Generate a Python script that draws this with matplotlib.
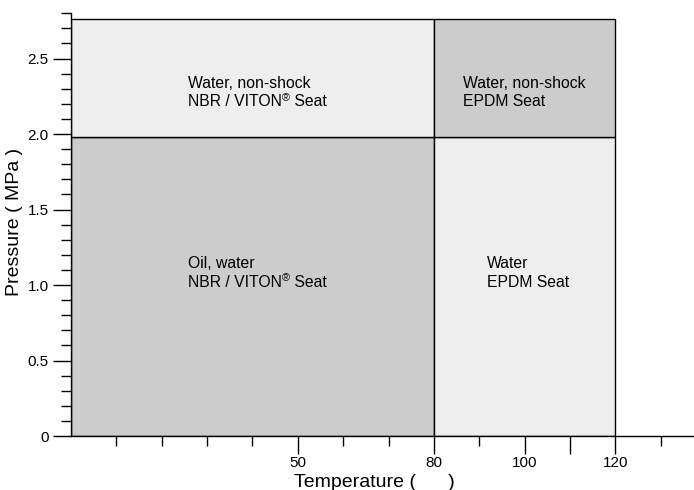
import matplotlib
matplotlib.use("Agg")
import matplotlib.pyplot as plt
from matplotlib import font_manager
import matplotlib.patches as mpatches

names = {f.name for f in font_manager.fontManager.ttflist}
narrow = "Liberation Sans Narrow" if "Liberation Sans Narrow" in names else "Liberation Sans"
plt.rcParams['font.family'] = ['Liberation Sans', 'DejaVu Sans']

# Data
temp_edges = [0, 80, 120]
pressure_edges = [0, 1.98, 2.76]
region_colors = [["#cccccc", "#eeeeee"], ["#eeeeee", "#cccccc"]]  # [row][col]
# (first line, second line before superscript, superscript, rest)
region_labels = [[("Oil, water", "NBR / VITON", "®", " Seat"), ("Water", "EPDM Seat", "", "")],
                 [("Water, non-shock", "NBR / VITON", "®", " Seat"),
                  ("Water, non-shock", "EPDM Seat", "", "")]]
label_x = [[25.8, 91.7], [25.8, 86.3]]
label_y = [[(1.11, 0.99), (1.11, 0.99)], [(2.305, 2.185), (2.305, 2.185)]]

x_major = [50, 80, 100, 110, 120]
x_major_labels = ["50", "80", "100", "", "120"]
x_minor = [10, 20, 30, 40, 60, 70, 90, 130]
y_major = [0, 0.5, 1.0, 1.5, 2.0, 2.5]
y_major_labels = ["0", "0.5", "1.0", "1.5", "2.0", "2.5"]
y_minor = [0.1, 0.2, 0.3, 0.4, 0.6, 0.7, 0.8, 0.9, 1.1, 1.2, 1.3, 1.4,
           1.6, 1.7, 1.8, 1.9, 2.1, 2.2, 2.3, 2.4, 2.6, 2.7, 2.8]

W, H = 694, 490
fig = plt.figure(figsize=(W / 100, H / 100), dpi=100)
ax = fig.add_axes([0.102, 0.110, 0.898, 0.863])

fs = 11.3
for r in range(2):
    for c in range(2):
        x0, x1 = temp_edges[c], temp_edges[c + 1]
        y0, y1 = pressure_edges[r], pressure_edges[r + 1]
        ax.add_patch(mpatches.Rectangle((x0, y0), x1 - x0, y1 - y0,
                                        facecolor=region_colors[r][c],
                                        edgecolor="black", linewidth=1.0, zorder=1))
        l1, l2, sup, rest = region_labels[r][c]
        tx = label_x[r][c]
        ty1, ty2 = label_y[r][c]
        ax.text(tx, ty1, l1, ha="left", va="baseline", fontsize=fs, zorder=3)
        t2 = ax.text(tx, ty2, l2, ha="left", va="baseline", fontsize=fs, zorder=3)
        if sup:
            s = ax.annotate(sup, xy=(1, 1), xycoords=t2, ha="left", va="top",
                            fontsize=fs * 0.7, xytext=(0, 1), textcoords="offset points",
                            zorder=3)
            ax.annotate(rest, xy=(1, 0), xycoords=(s, t2), ha="left", va="bottom",
                        fontsize=fs, zorder=3)

ax.set_xlim(0, 137.3)
ax.set_ylim(0, 2.8)
ax.spines['top'].set_visible(False)
ax.spines['right'].set_visible(False)
ax.spines['left'].set_linewidth(1.0)
ax.spines['bottom'].set_linewidth(1.0)

ax.set_xticks(x_major)
ax.set_xticklabels(x_major_labels, fontname=narrow, fontsize=11)
ax.set_xticks(x_minor, minor=True)
ax.set_yticks(y_major)
ax.set_yticklabels(y_major_labels, fontname=narrow, fontsize=11)
ax.set_yticks(y_minor, minor=True)
ax.tick_params(axis='both', which='major', length=13, width=1, direction='out')
ax.tick_params(axis='both', which='minor', length=7, width=1, direction='out')
ax.tick_params(axis='x', which='major', pad=1.5)
ax.tick_params(axis='y', which='major', pad=3)

fig.text(374 / W, 1 - 487 / H, "Temperature (      )", fontsize=14,
         ha="center", va="baseline")
fig.text(15 / W, 1 - 222 / H, "Pressure ( MPa )", fontsize=14,
         ha="center", va="center", rotation=90)

fig.savefig("out.png", dpi=100)
